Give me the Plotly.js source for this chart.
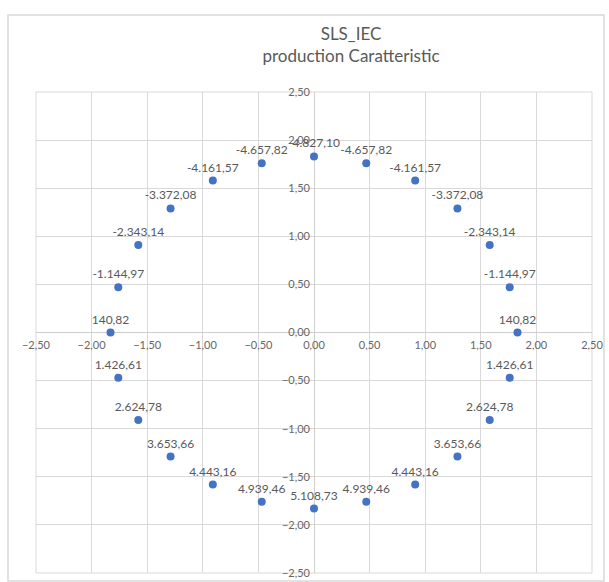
<!DOCTYPE html>
<html>
<head>
<meta charset="utf-8">
<script src="https://cdn.plot.ly/plotly-3.0.1.min.js"></script>
<style>
  html, body { margin: 0; padding: 0; background: #ffffff; }
  #chart { width: 609px; height: 582px; }
</style>
</head>
<body>
<div id="chart"></div>
<script>
// Production characteristic points (x, y) and the value shown at each point
const xValues = [1.83, 1.76, 1.58, 1.29, 0.91, 0.47, 0.00, -0.47, -0.91, -1.29, -1.58, -1.76,
                 -1.83, -1.76, -1.58, -1.29, -0.91, -0.47, 0.00, 0.47, 0.91, 1.29, 1.58, 1.76];
const yValues = [0.00, 0.47, 0.91, 1.29, 1.58, 1.76, 1.83, 1.76, 1.58, 1.29, 0.91, 0.47,
                 0.00, -0.47, -0.91, -1.29, -1.58, -1.76, -1.83, -1.76, -1.58, -1.29, -0.91, -0.47];
const pointValues = [140.82, -1144.97, -2343.14, -3372.08, -4161.57, -4657.82, -4827.10, -4657.82,
                     -4161.57, -3372.08, -2343.14, -1144.97, 140.82, 1426.61, 2624.78, 3653.66,
                     4443.16, 4939.46, 5108.73, 4939.46, 4443.16, 3653.66, 2624.78, 1426.61];
const tickValues = [-2.5, -2, -1.5, -1, -0.5, 0, 0.5, 1, 1.5, 2, 2.5];

// Italian number style: "." for thousands, "," for decimals
function formatIt(v) {
  const sign = v < 0 ? '-' : '';
  const parts = Math.abs(v).toFixed(2).split('.');
  const intPart = parts[0].replace(/\B(?=(\d{3})+(?!\d))/g, '.');
  return sign + intPart + ',' + parts[1];
}

const gray = '#595959';
const gridColor = '#d9d9d9';

const trace = {
  type: 'scatter',
  mode: 'markers+text',
  x: xValues,
  y: yValues,
  text: pointValues.map(formatIt),
  textposition: 'top center',
  textfont: { family: 'Lato, "DejaVu Sans", sans-serif', size: 12, color: gray },
  marker: { color: '#4472C4', size: 8 },
  hoverinfo: 'skip',
  cliponaxis: false
};

const axisCommon = {
  range: [-2.5, 2.5],
  tickvals: tickValues,
  tickformat: '.2f',
  showgrid: true,
  gridcolor: gridColor,
  gridwidth: 1,
  zeroline: true,
  zerolinecolor: '#cfcfcf',
  zerolinewidth: 1,
  showline: false,
  ticks: '',
  anchor: 'free',
  position: 0.5,
  tickfont: { family: 'Lato, "DejaVu Sans", sans-serif', size: 11, color: '#666666' },
  fixedrange: true
};

const layout = {
  width: 609,
  height: 582,
  margin: { l: 36, r: 17, t: 92, b: 9 },
  paper_bgcolor: '#ffffff',
  plot_bgcolor: '#ffffff',
  separators: ',.',
  showlegend: false,
  title: {
    text: 'SLS_IEC<br>production Caratteristic',
    font: { family: 'Lato, "DejaVu Sans", sans-serif', size: 17, color: gray },
    x: 351 / 609,
    xref: 'container',
    xanchor: 'center',
    y: 1 - 40 / 582,
    yref: 'container',
    yanchor: 'top',
    pad: { t: 0, b: 0 }
  },
  xaxis: Object.assign({}, axisCommon, { ticklabelstandoff: 4 }),
  yaxis: Object.assign({}, axisCommon, { ticklabelstandoff: 4 }),
  shapes: [
    // plot area frame
    { type: 'rect', xref: 'paper', yref: 'paper', x0: 0, x1: 1, y0: 0, y1: 1,
      line: { color: gridColor, width: 1 }, layer: 'below' },
    // chart frame
    { type: 'rect', xref: 'paper', yref: 'paper',
      x0: (8 - 36) / 556, x1: (604 - 36) / 556, y0: (573 - 581) / 481, y1: (573 - 15) / 481,
      line: { color: gridColor, width: 1.5 }, layer: 'below' }
  ]
};

Plotly.newPlot('chart', [trace], layout, { displayModeBar: false, staticPlot: true });
</script>
</body>
</html>
